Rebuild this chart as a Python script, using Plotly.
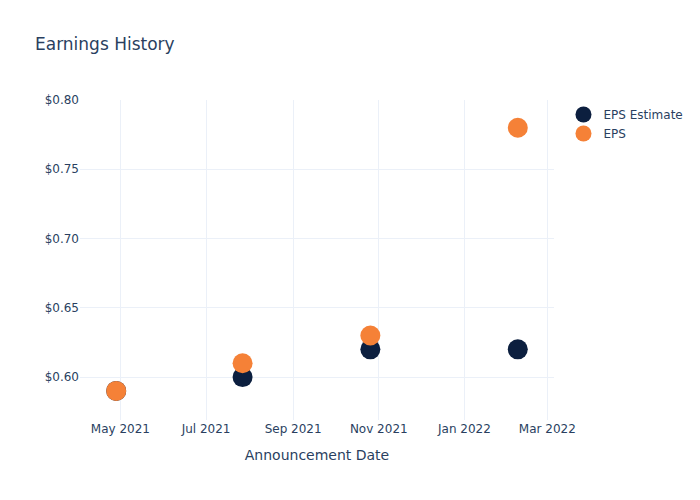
import pandas as pd
import plotly.graph_objects as go

# announcement dates and EPS values
dates = ["2021-04-28", "2021-07-27", "2021-10-26", "2022-02-08"]
eps_estimate = [0.59, 0.60, 0.62, 0.62]
eps_actual = [0.59, 0.61, 0.63, 0.78]

df = pd.DataFrame({"date": pd.to_datetime(dates), "estimate": eps_estimate, "actual": eps_actual})

fig = go.Figure()
fig.add_trace(go.Scatter(x=df["date"], y=df["estimate"], mode="markers", name="EPS Estimate",
                         marker=dict(color="#0c1f3f", size=20)))
fig.add_trace(go.Scatter(x=df["date"], y=df["actual"], mode="markers", name="EPS",
                         marker=dict(color="#f58137", size=20)))
fig.update_layout(
    template="plotly_white",
    title=dict(text="Earnings History"),
    width=700,
    height=500,
    font=dict(family="DejaVu Sans, sans-serif"),
    xaxis=dict(title="Announcement Date"),
    yaxis=dict(tickprefix="$", tickformat=".2f", range=[0.569, 0.80]),
)
# drop the default page margin so the figure sits at the window corner
fig.write_html("out.html", config={"displayModeBar": False},
               post_script="document.body.style.margin='0';")
